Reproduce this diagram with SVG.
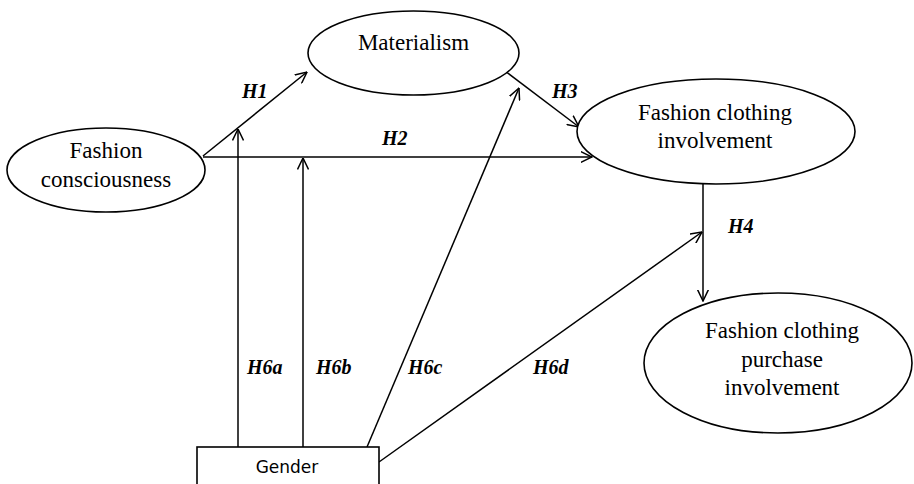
<svg xmlns="http://www.w3.org/2000/svg" width="914" height="484" viewBox="0 0 914 484">
<style>
.node{fill:#fff;stroke:#000;stroke-width:1.6}
.t{font-family:"Liberation Serif","Times New Roman",serif;font-size:23px;fill:#000;text-anchor:middle}
.h{font-family:"Liberation Serif","Times New Roman",serif;font-size:20px;font-weight:bold;font-style:italic;fill:#000}
.g{font-family:"DejaVu Sans",sans-serif;font-size:17px;fill:#000;text-anchor:middle}
.c{stroke:#000;stroke-width:1.5;fill:none;marker-end:url(#arr)}
</style>
<defs>
<marker id="arr" viewBox="0 0 12 12" refX="11.5" refY="6" markerWidth="12" markerHeight="12" markerUnits="userSpaceOnUse" orient="auto">
<path d="M0,0.5 L11.5,6 L0,11.5" fill="none" stroke="#000" stroke-width="1.5"/>
</marker>
</defs>
<rect width="914" height="484" fill="#fff"/>
<g id="connectors">
<line class="c" x1="203" y1="156" x2="307" y2="72"/>
<line class="c" x1="203" y1="157" x2="592" y2="157"/>
<line class="c" x1="505" y1="71" x2="579" y2="127"/>
<line class="c" x1="703" y1="184" x2="703" y2="301"/>
<line class="c" x1="238" y1="447" x2="238" y2="129"/>
<line class="c" x1="303" y1="447" x2="303" y2="158"/>
<line class="c" x1="367" y1="447" x2="519" y2="88"/>
<line class="c" x1="379" y1="462" x2="702" y2="232"/>
</g>
<g id="labels">
<text class="h" x="242" y="98">H1</text>
<text class="h" x="382" y="145">H2</text>
<text class="h" x="552" y="98">H3</text>
<text class="h" x="728" y="233">H4</text>
<text class="h" x="247" y="374">H6a</text>
<text class="h" x="316" y="374">H6b</text>
<text class="h" x="408" y="374">H6c</text>
<text class="h" x="533" y="374">H6d</text>
</g>
<g id="fashion-consciousness">
<ellipse class="node" cx="106" cy="170" rx="99" ry="42"/>
<text class="t" x="106" y="158">Fashion</text>
<text class="t" x="106" y="187">consciousness</text>
</g>
<g id="materialism">
<ellipse class="node" cx="413.5" cy="53" rx="105.5" ry="42"/>
<text class="t" x="413.5" y="50">Materialism</text>
</g>
<g id="fashion-clothing-involvement">
<ellipse class="node" cx="716" cy="131.5" rx="139" ry="52.5"/>
<text class="t" x="715" y="120">Fashion clothing</text>
<text class="t" x="715" y="148">involvement</text>
</g>
<g id="fashion-clothing-purchase-involvement">
<ellipse class="node" cx="778" cy="363" rx="134" ry="70"/>
<text class="t" x="782" y="338">Fashion clothing</text>
<text class="t" x="782" y="367">purchase</text>
<text class="t" x="782" y="395">involvement</text>
</g>
<g id="gender">
<rect class="node" x="197" y="447" width="182" height="50"/>
<text class="g" x="287" y="473">Gender</text>
</g>
</svg>
